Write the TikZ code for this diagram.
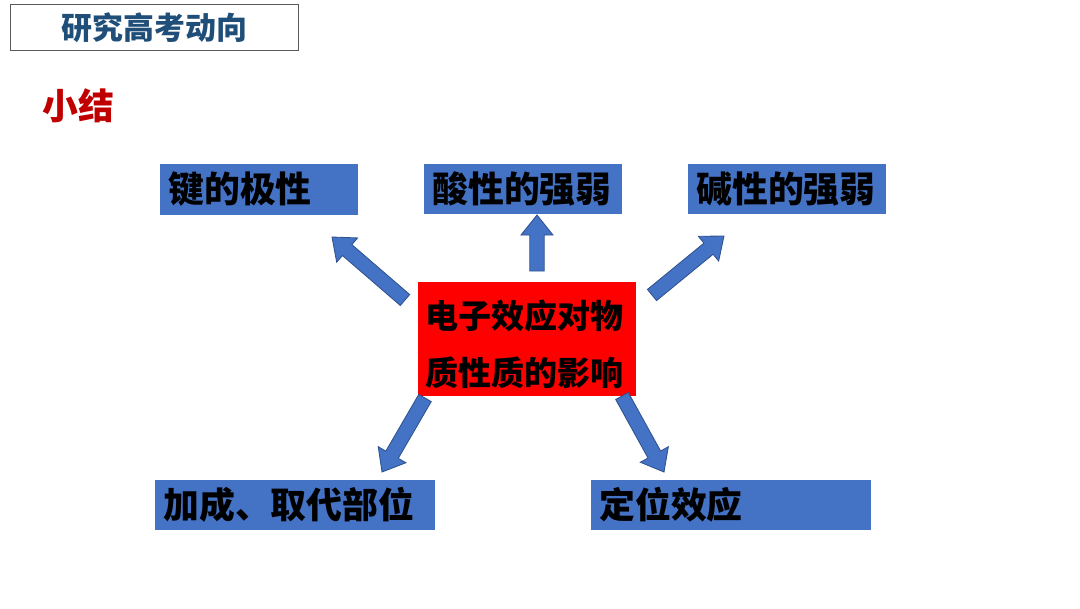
\documentclass[tikz,border=0pt]{standalone}
\usepackage{fontspec}
\newfontfamily\cjk{Noto Sans CJK SC}
\usepackage{tikz}
\usetikzlibrary{calc}
\definecolor{boxblue}{RGB}{68,114,196}
\definecolor{edgeblue}{RGB}{47,82,143}
\definecolor{titleblue}{RGB}{31,78,121}
\definecolor{darkred}{RGB}{192,0,0}
\definecolor{framegray}{RGB}{90,90,90}

% block arrow from tail coordinate #1 to tip coordinate #2
\newcommand{\blockarrow}[2]{%
  \coordinate (neck) at ($(#2)!0.5cm!(#1)$);
  \path[fat] ($(#1)!0.18cm!90:(#2)$) -- ($(neck)!0.18cm!90:(#2)$) -- ($(neck)!0.4cm!90:(#2)$)
    -- (#2) -- ($(neck)!0.4cm!-90:(#2)$) -- ($(neck)!0.18cm!-90:(#2)$) -- ($(#1)!0.18cm!-90:(#2)$) -- cycle;}

\begin{document}
\begin{tikzpicture}[x=0.025cm, y=-0.025cm,
  topic/.style={fill=boxblue, anchor=west, align=left, inner xsep=0.2cm, inner ysep=0pt, minimum height=1.27cm, font=\cjk\bfseries\fontsize{25.5}{30}\selectfont},
  hub/.style={fill=red, anchor=north west, align=left, inner xsep=0.18cm, minimum width=5.45cm, minimum height=2.83cm, font=\cjk\bfseries\fontsize{23.5}{40.5}\selectfont},
  fat/.style={fill=boxblue, draw=edgeblue, line width=0.6pt, line join=miter}]
\useasboundingbox (0,0) rectangle (1080,608);

\node[draw=framegray, line width=0.8pt, minimum width=7.2cm, minimum height=1.15cm, anchor=north west, text=titleblue, font=\cjk\bfseries\fontsize{22}{26}\selectfont] (title) at (10,4) {研究高考动向};
\node[anchor=west, inner sep=0pt, text=darkred, font=\cjk\bfseries\fontsize{25.5}{30}\selectfont] (summary) at (42,106) {小结};

\node[topic, text width=4.55cm] (polar) at (160,189.5) {键的极性};
\node[topic, text width=4.55cm] (acid) at (424,189) {酸性的强弱};
\node[topic, text width=4.55cm] (base) at (688,189) {碱性的强弱};
\node[topic, text width=6.6cm] (site) at (155,505) {加成、取代部位};
\node[topic, text width=6.6cm] (orient) at (591,505) {定位效应};

\node[hub, text width=5.09cm] (effect) at (418,282) {\rule{0pt}{28pt}电子效应对物\\质性质的影响};

\coordinate (polar-tail) at (405,300);
\coordinate (polar-tip) at (332,237);
\coordinate (acid-tail) at (537,271);
\coordinate (acid-tip) at (537,215);
\coordinate (base-tail) at (652,295);
\coordinate (base-tip) at (724,236);
\coordinate (site-tail) at (425,398);
\coordinate (site-tip) at (382,472);
\coordinate (orient-tail) at (622,396);
\coordinate (orient-tip) at (664,472);

\blockarrow{polar-tail}{polar-tip}
\blockarrow{acid-tail}{acid-tip}
\blockarrow{base-tail}{base-tip}
\blockarrow{site-tail}{site-tip}
\blockarrow{orient-tail}{orient-tip}
\end{tikzpicture}
\end{document}
